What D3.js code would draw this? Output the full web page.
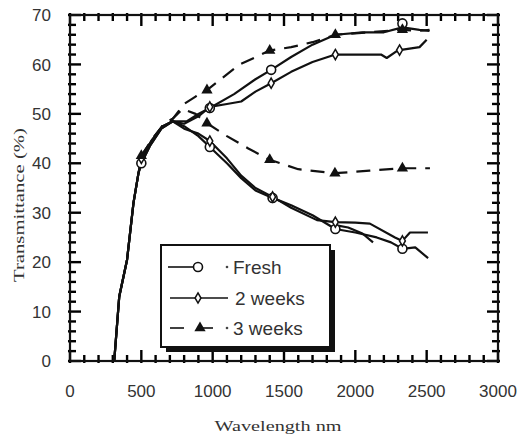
<!DOCTYPE html>
<html>
<head>
<meta charset="utf-8">
<script src="https://cdn.jsdelivr.net/npm/d3@7"></script>
<style>
  body { margin: 0; background: #fff; }
  svg { display: block; }
</style>
</head>
<body>
<div id="chart"></div>
<script>
// data: [wavelength nm, transmittance %]
var rise = [[310,0],[345,13],[400,20.5],[445,32],[480,38]];

var freshUpper = [[500,40],[560,43.5],[640,47],[720,48.5],[820,48.5],[900,50],[980,51.2],[1150,54],[1300,57],[1410,58.9],[1550,61.5],[1700,64],[1860,66],[2050,66.5],[2200,66.5],[2330,67.5],[2450,67],[2520,66.8]];
var freshLower = [[500,40],[560,43.5],[640,47],[720,48.5],[800,47.5],[900,45.5],[980,43.3],[1100,40],[1200,37],[1300,34.5],[1420,33],[1550,31.5],[1700,29.5],[1860,26.7],[2000,26],[2150,25],[2250,24],[2330,22.7],[2420,23],[2510,20.8]];
var freshExtra = [[1860,27.5],[1950,27],[2050,25.8],[2124,24]];

var weeks2Upper = [[500,41],[570,44.5],[650,47.5],[720,48.5],[800,48],[900,49.5],[980,51.4],[1100,52],[1200,52.5],[1300,54.5],[1410,56.2],[1550,58.5],[1700,60.5],[1860,62],[2000,62],[2180,62],[2220,61.3],[2280,62.5],[2310,62.9],[2450,63.5],[2500,65]];
var weeks2Lower = [[500,41],[570,44.5],[650,47.5],[720,48.5],[800,47],[900,46],[980,44.5],[1100,41],[1200,37.5],[1300,35],[1420,33.2],[1550,31],[1731,28.5],[1860,28.1],[2000,28],[2102,27.8],[2278,25],[2330,24.3],[2383,26],[2509,26]];

var weeks3Upper = [[500,41.5],[580,45],[660,48],[720,49],[800,52],[880,53.5],[960,54.8],[1100,58],[1190,60],[1400,62.8],[1550,63.5],[1700,64.5],[1860,66],[2100,66.5],[2330,67],[2450,66.8],[2520,67]];
var weeks3Lower = [[500,41.5],[580,45],[660,48],[720,49],[790,51],[880,50],[960,48.1],[1100,45.5],[1250,43],[1400,40.7],[1600,38.8],[1857,38],[2100,38.5],[2330,39],[2523,39]];

// markers
var freshMarks = [[500,40],[980,51.2],[980,43.3],[1410,58.9],[1420,33],[1860,26.7],[2330,22.7],[2330,68.3]];
var weeks2Marks = [[500,41],[980,51.4],[980,44.5],[1410,56.2],[1420,33.2],[1860,62],[1860,28.1],[2310,62.9],[2330,24.3]];
var weeks3Marks = [[500,41.5],[960,54.8],[960,48.1],[1400,62.8],[1400,40.7],[1860,66],[1857,38],[2330,67],[2330,39]];

var xTicks = [0,500,1000,1500,2000,2500,3000];
var yTicks = [0,10,20,30,40,50,60,70];
var legendNames = ["Fresh","2 weeks","3 weeks"];

var W = 518, H = 437;
var svg = d3.select("#chart").append("svg")
	.attr("width", W)
	.attr("height", H);

var xs = d3.scaleLinear().domain([0,3000]).range([70,498]);
var ys = d3.scaleLinear().domain([0,70]).range([361,15]);

var font = "'Liberation Sans', Arial, sans-serif";
var ink = "#111";

// tick marks, inward on all four sides
var xMinor = d3.range(0, 3001, 100);
var yMinor = d3.range(0, 71, 2);
function tlen(v, major){ return v % major === 0 ? 11 : 6; }

var tickG = svg.append("g").attr("class","tickmarks");
tickG.selectAll("line.xb").data(xMinor).enter().append("line").attr("class","xb")
	.attr("x1", function(d){ return xs(d); }).attr("x2", function(d){ return xs(d); })
	.attr("y1", 363).attr("y2", function(d){ return 361 - tlen(d,500); })
	.attr("stroke", "#000").attr("stroke-width", 2.4);
tickG.selectAll("line.xt").data(xMinor).enter().append("line").attr("class","xt")
	.attr("x1", function(d){ return xs(d); }).attr("x2", function(d){ return xs(d); })
	.attr("y1", 13).attr("y2", function(d){ return 15 + tlen(d,500); })
	.attr("stroke", "#000").attr("stroke-width", 2.4);
tickG.selectAll("line.yl").data(yMinor).enter().append("line").attr("class","yl")
	.attr("y1", function(d){ return ys(d); }).attr("y2", function(d){ return ys(d); })
	.attr("x1", 68).attr("x2", function(d){ return 70 + tlen(d,10); })
	.attr("stroke", "#000").attr("stroke-width", 2.4);
tickG.selectAll("line.yr").data(yMinor).enter().append("line").attr("class","yr")
	.attr("y1", function(d){ return ys(d); }).attr("y2", function(d){ return ys(d); })
	.attr("x1", 500).attr("x2", function(d){ return 498 - tlen(d,10); })
	.attr("stroke", "#000").attr("stroke-width", 2.4);

// frame
svg.append("rect")
	.attr("x", xs(0)).attr("y", ys(70))
	.attr("width", xs(3000)-xs(0)).attr("height", ys(0)-ys(70))
	.attr("fill","none").attr("stroke", ink).attr("stroke-width",2.2);

// tick labels
svg.append("g").selectAll("text")
	.data(xTicks)
	.enter().append("text")
	.attr("x", function(d){ return xs(d); })
	.attr("y", 397)
	.attr("text-anchor","middle")
	.attr("fill","#333")
	.style("font-family", font)
	.style("font-size","17px")
	.text(function(d){ return d; });
svg.append("g").selectAll("text")
	.data(yTicks)
	.enter().append("text")
	.attr("x", 51)
	.attr("y", function(d){ return ys(d); })
	.attr("dy","0.36em")
	.attr("text-anchor","end")
	.attr("fill","#333")
	.style("font-family", font)
	.style("font-size","17px")
	.text(function(d){ return d; });

// curves
var lineGen = d3.line().x(function(d){ return xs(d[0]); }).y(function(d){ return ys(d[1]); });
var curves = [
	{ data: rise.concat(freshUpper), dash: null },
	{ data: rise.concat(freshLower), dash: null },
	{ data: freshExtra, dash: null },
	{ data: rise.concat(weeks2Upper), dash: null },
	{ data: rise.concat(weeks2Lower), dash: null },
	{ data: weeks3Upper, dash: "14,9" },
	{ data: weeks3Lower, dash: "14,9" }
];
svg.append("g").selectAll("path")
	.data(curves)
	.enter().append("path")
	.attr("d", function(d){ return lineGen(d.data); })
	.attr("fill","none")
	.attr("stroke", ink)
	.attr("stroke-width",2.2)
	.attr("stroke-linejoin","round")
	.attr("stroke-dasharray", function(d){ return d.dash; });

// markers
var diamond = d3.symbol().type(d3.symbolDiamond).size(30);
var triangle = d3.symbol().type(d3.symbolTriangle).size(55);

svg.append("g").selectAll("circle")
	.data(freshMarks)
	.enter().append("circle")
	.attr("cx", function(d){ return xs(d[0]); })
	.attr("cy", function(d){ return ys(d[1]); })
	.attr("r", 4.5)
	.attr("fill","#fff").attr("stroke", ink).attr("stroke-width",1.6);

svg.append("g").selectAll("path")
	.data(weeks2Marks)
	.enter().append("path")
	.attr("d", diamond)
	.attr("transform", function(d){ return "translate(" + xs(d[0]) + "," + ys(d[1]) + ")"; })
	.attr("fill","#fff").attr("stroke", ink).attr("stroke-width",1.5);

svg.append("g").selectAll("path")
	.data(weeks3Marks)
	.enter().append("path")
	.attr("d", triangle)
	.attr("transform", function(d){ return "translate(" + xs(d[0]) + "," + ys(d[1]) + ")"; })
	.attr("fill", ink);

// legend
var lg = svg.append("g").attr("transform","translate(161,245)");
lg.append("rect").attr("x",5).attr("y",5).attr("width",169).attr("height",102).attr("fill", ink);
lg.append("rect").attr("x",0).attr("y",0).attr("width",169).attr("height",102)
	.attr("fill","#fff").attr("stroke", ink).attr("stroke-width",2);

var rows = [22, 53, 83];
// Fresh
lg.append("line").attr("x1",7).attr("x2",33).attr("y1",rows[0]).attr("y2",rows[0]).attr("stroke", ink).attr("stroke-width",1.6);
lg.append("circle").attr("cx",37).attr("cy",rows[0]).attr("r",4.5).attr("fill","#fff").attr("stroke", ink).attr("stroke-width",1.6);
lg.append("circle").attr("cx",66).attr("cy",rows[0]).attr("r",1.3).attr("fill","#444");
// 2 weeks
lg.append("line").attr("x1",9).attr("x2",67).attr("y1",rows[1]).attr("y2",rows[1]).attr("stroke", ink).attr("stroke-width",1.6);
lg.append("path").attr("d",diamond).attr("transform","translate(37," + rows[1] + ")").attr("fill","#fff").attr("stroke", ink).attr("stroke-width",1.5);
// 3 weeks
lg.append("line").attr("x1",9).attr("x2",23).attr("y1",rows[2]).attr("y2",rows[2]).attr("stroke", ink).attr("stroke-width",1.6);
lg.append("line").attr("x1",42).attr("x2",52).attr("y1",rows[2]).attr("y2",rows[2]).attr("stroke", ink).attr("stroke-width",1.6);
lg.append("path").attr("d",triangle).attr("transform","translate(39," + rows[2] + ")").attr("fill", ink);
lg.append("circle").attr("cx",66).attr("cy",rows[2]).attr("r",1.3).attr("fill","#444");

lg.selectAll("text.leg")
	.data(legendNames)
	.enter().append("text")
	.attr("class","leg")
	.attr("x", function(d,i){ return i == 1 ? 74 : 72; })
	.attr("y", function(d,i){ return rows[i]; })
	.attr("dy","0.36em")
	.attr("fill","#333")
	.style("font-family", font)
	.style("font-size","19px")
	.text(function(d){ return d; });

// axis titles
svg.append("text")
	.attr("x",278).attr("y",431)
	.attr("text-anchor","middle")
	.attr("textLength",127).attr("lengthAdjust","spacingAndGlyphs")
	.attr("fill","#333")
	.style("font-family","'Liberation Serif', 'Times New Roman', serif")
	.style("font-size","15px")
	.text("Wavelength nm");

svg.append("text")
	.attr("transform","translate(24,205) rotate(-90)")
	.attr("text-anchor","middle")
	.attr("textLength",154).attr("lengthAdjust","spacingAndGlyphs")
	.attr("fill","#333")
	.style("font-family","'Liberation Serif', 'Times New Roman', serif")
	.style("font-size","15px")
	.text("Transmittance (%)");
</script>
</body>
</html>
